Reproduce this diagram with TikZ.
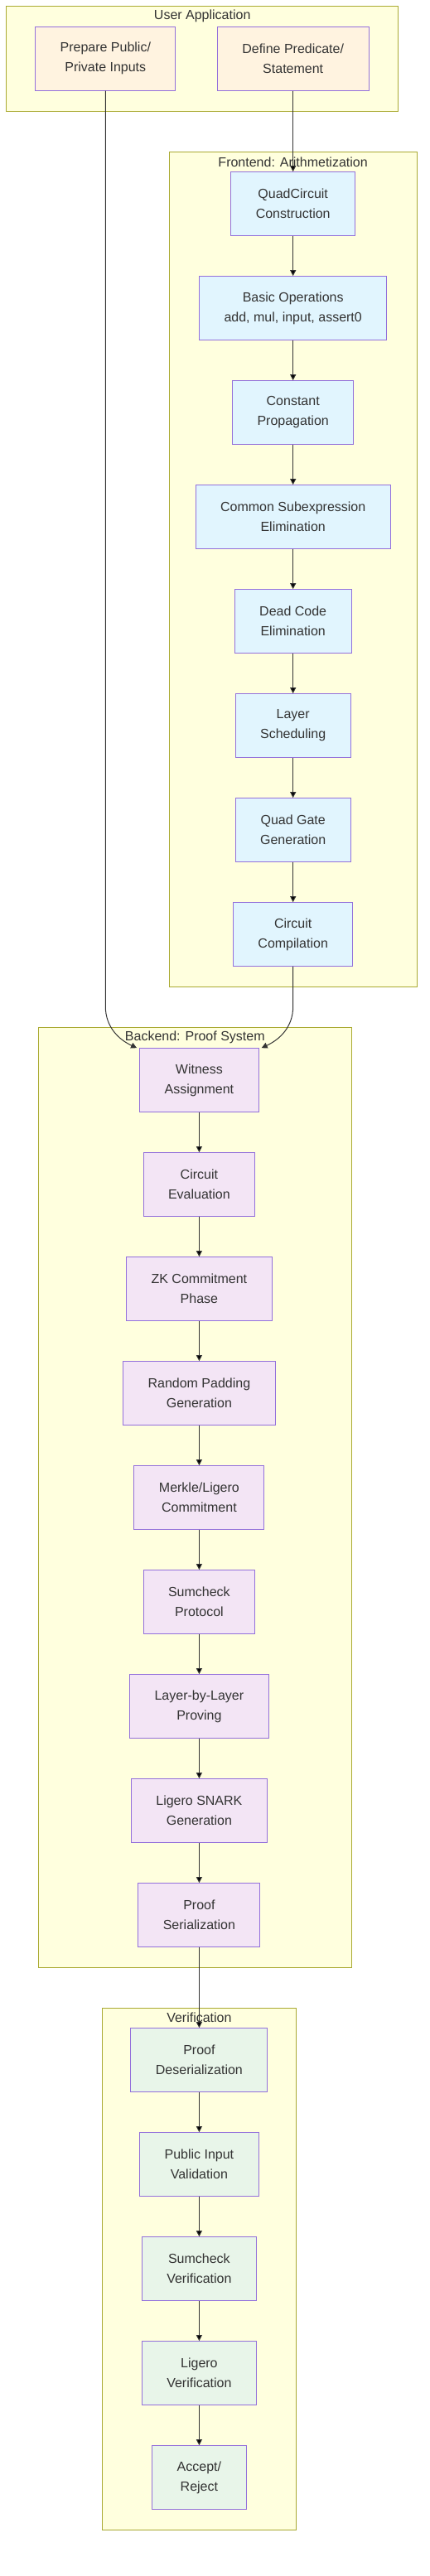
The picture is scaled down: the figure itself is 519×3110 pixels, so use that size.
\documentclass[tikz,border=0pt]{standalone}
\usepackage{fontspec}
\setmainfont{Liberation Sans}
\usetikzlibrary{arrows.meta}
\definecolor{clfill}{HTML}{FFFFDE}
\definecolor{cldraw}{HTML}{AAAA33}
\definecolor{nddraw}{HTML}{9370DB}
\definecolor{userfill}{HTML}{FFF3E0}
\definecolor{frontfill}{HTML}{E1F5FE}
\definecolor{backfill}{HTML}{F3E5F5}
\definecolor{veriffill}{HTML}{E8F5E9}
\definecolor{ink}{HTML}{333333}

\begin{document}
\begin{tikzpicture}[x=1pt,y=1pt,node distance=126pt,
  every node/.style={font=\fontsize{16pt}{24pt}\selectfont,text=ink},
  box/.style={draw=nddraw,line width=1pt,minimum height=76.7pt,inner xsep=30pt,align=center},
  user/.style={box,fill=userfill},
  front/.style={box,fill=frontfill},
  back/.style={box,fill=backfill},
  verif/.style={box,fill=veriffill},
  cluster/.style={draw=cldraw,fill=clfill,line width=1pt},
  flow/.style={-{Triangle[length=7pt,width=7pt]},draw=ink,line width=1pt}]

\useasboundingbox (0,0) rectangle (519,-3110);

\draw[cluster](7.7,-7.3) rectangle (480.7,-134);
\draw[cluster](204,-183.3) rectangle (503.3,-1191);
\draw[cluster](46.3,-1240.3) rectangle (424.3,-2375);
\draw[cluster](123.7,-2424.3) rectangle (357,-3054.3);

\node(tuser) at (244.2,-19.5){User Application};
\node(tfront) at (353.6,-195.3){Frontend: Arithmetization};
\node(tback) at (235.3,-1252.3){Backend: Proof System};
\node(tverif) at (240.4,-2436){Verification};

\node[user](prep) at (127.3,-70.8){Prepare Public/\\Private Inputs};
\node[user](pred) at (353.7,-70.8){Define Predicate/\\Statement};

\node[front](quad) at (353.7,-246){QuadCircuit\\Construction};
\node[front](basic)[below of=quad]{Basic Operations\\add, mul, input, assert0};
\node[front](const)[below of=basic]{Constant\\Propagation};
\node[front](cse)[below of=const]{Common Subexpression\\Elimination};
\node[front](dce)[below of=cse]{Dead Code\\Elimination};
\node[front](layer)[below of=dce]{Layer\\Scheduling};
\node[front](qgate)[below of=layer]{Quad Gate\\Generation};
\node[front](ccomp)[below of=qgate]{Circuit\\Compilation};

\node[back](wit) at (240.4,-1304){Witness\\Assignment};
\node[back](ceval)[below of=wit]{Circuit\\Evaluation};
\node[back](zkc)[below of=ceval]{ZK Commitment\\Phase};
\node[back](pad)[below of=zkc]{Random Padding\\Generation};
\node[back](merk)[below of=pad]{Merkle/Ligero\\Commitment};
\node[back](sumc)[below of=merk]{Sumcheck\\Protocol};
\node[back](lbl)[below of=sumc]{Layer-by-Layer\\Proving};
\node[back](snark)[below of=lbl]{Ligero SNARK\\Generation};
\node[back](ser)[below of=snark]{Proof\\Serialization};

\node[verif](deser) at (240.4,-2487){Proof\\Deserialization};
\node[verif](pubin)[below of=deser]{Public Input\\Validation};
\node[verif](sumv)[below of=pubin]{Sumcheck\\Verification};
\node[verif](ligv)[below of=sumv]{Ligero\\Verification};
\node[verif](acc)[below of=ligv]{Accept/\\Reject};

\coordinate(pbend) at (127.3,-1215);
\coordinate(cbend) at (353.7,-1215);

\path[flow](pred)edge(quad)
  (quad)edge(basic)
  (basic)edge(const)
  (const)edge(cse)
  (cse)edge(dce)
  (dce)edge(layer)
  (layer)edge(qgate)
  (qgate)edge(ccomp)
  (wit)edge(ceval)
  (ceval)edge(zkc)
  (zkc)edge(pad)
  (pad)edge(merk)
  (merk)edge(sumc)
  (sumc)edge(lbl)
  (lbl)edge(snark)
  (snark)edge(ser)
  (ser)edge(deser)
  (deser)edge(pubin)
  (pubin)edge(sumv)
  (sumv)edge(ligv)
  (ligv)edge(acc);

\draw[flow](prep)--(pbend)to[out=-90,in=155]([xshift=-3pt]wit.north west);
\draw[flow](ccomp)--(cbend)to[out=-90,in=25]([xshift=3pt]wit.north east);

\end{tikzpicture}
\end{document}
